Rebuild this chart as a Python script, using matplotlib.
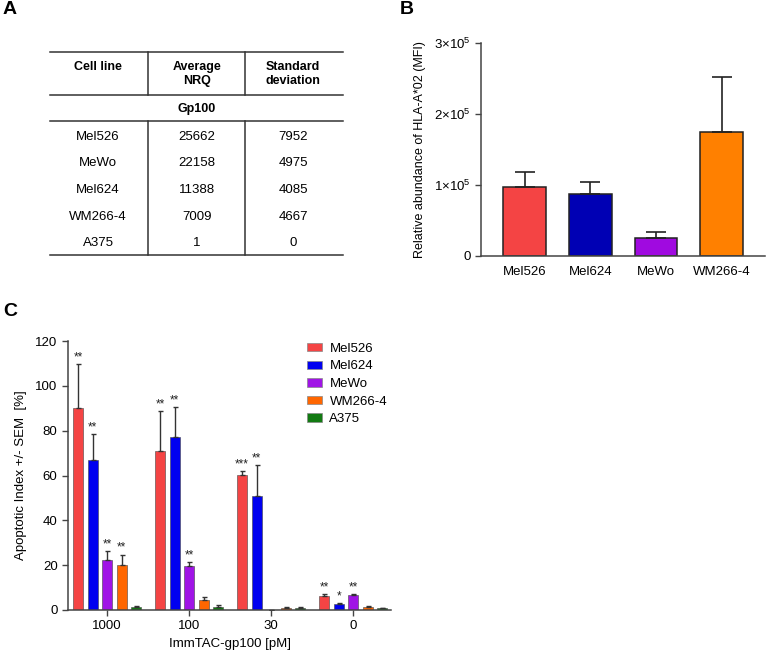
import numpy as np
import matplotlib
matplotlib.use('Agg')
import matplotlib.pyplot as plt
from matplotlib.patches import Patch

plt.rcParams['font.family'] = ['Liberation Sans', 'DejaVu Sans']
plt.rcParams['mathtext.fontset'] = 'custom'
plt.rcParams['mathtext.rm'] = 'Liberation Sans'
plt.rcParams['mathtext.it'] = 'Liberation Sans'

# panel A: Gp100 expression table
table_cols = ['Cell line', 'Average\nNRQ', 'Standard\ndeviation']
table_group = 'Gp100'
table_lines = ['Mel526', 'MeWo', 'Mel624', 'WM266-4', 'A375']
avg_nrq = [25662, 22158, 11388, 7009, 1]
std_nrq = [7952, 4975, 4085, 4667, 0]

# panel B: HLA-A*02 abundance
b_lines = ['Mel526', 'Mel624', 'MeWo', 'WM266-4']
b_mfi = [97000, 88000, 25000, 175000]
b_err = [21500, 16600, 8500, 76700]
b_colors = ['#f44444', '#0000b4', '#a00ae0', '#ff8000']

# panel C: apoptotic index
conc = ['1000', '100', '30', '0']
c_lines = ['Mel526', 'Mel624', 'MeWo', 'WM266-4', 'A375']
c_colors = ['#f44444', '#0000f0', '#a014e6', '#ff6600', '#127a12']
mel526_ai = [90.2, 70.9, 60.4, 6.4]
mel624_ai = [67.1, 77.3, 50.8, 2.5]
mewo_ai = [22.3, 19.7, 0.0, 6.7]
wm266_ai = [20.1, 4.5, 1.0, 1.2]
a375_ai = [1.5, 1.5, 1.0, 0.7]
mel526_sem = [19.5, 17.8, 1.5, 0.6]
mel624_sem = [11.4, 13.2, 14.0, 0.5]
mewo_sem = [4.1, 1.7, 0.0, 0.4]
wm266_sem = [4.6, 1.5, 0.3, 0.4]
a375_sem = [0.4, 0.6, 0.2, 0.3]
mel526_sig = ['**', '**', '***', '**']
mel624_sig = ['**', '**', '**', '*']
mewo_sig = ['**', '**', '', '**']
wm266_sig = ['**', '', '', '']
a375_sig = ['', '', '', '']

c_vals = [mel526_ai, mel624_ai, mewo_ai, wm266_ai, a375_ai]
c_sems = [mel526_sem, mel624_sem, mewo_sem, wm266_sem, a375_sem]
c_sigs = [mel526_sig, mel624_sig, mewo_sig, wm266_sig, a375_sig]

W, H = 766, 651
fig = plt.figure(figsize=(W / 100, H / 100), dpi=100)

# full-figure axes in pixel coords for the table and panel letters
tax = fig.add_axes([0, 0, 1, 1])
tax.set_xlim(0, W)
tax.set_ylim(H, 0)
tax.axis('off')

for lab, x, y in [('A', 3, 10), ('B', 400, 10), ('C', 3, 311)]:
    tax.text(x, y, lab, fontsize=14, fontweight='bold', va='center', ha='left')

x0, x1 = 50, 343
col_x = [98, 197, 293]
div_x = [147.5, 245]
y_top, y_hdr, y_grp, y_bot = 52, 95, 121, 255
lc = '#333333'
for y in [y_top, y_hdr, y_grp, y_bot]:
    tax.plot([x0, x1], [y, y], color=lc, lw=1.1)
for x in div_x:
    tax.plot([x, x], [y_top, y_hdr], color=lc, lw=1.1)
    tax.plot([x, x], [y_grp, y_bot], color=lc, lw=1.1)
for cx, txt in zip(col_x, table_cols):
    tax.text(cx, 61, txt, fontsize=9, fontweight='bold', ha='center', va='top',
             linespacing=1.2)
tax.text((x0 + x1) / 2, 109, table_group, fontsize=9, fontweight='bold',
         ha='center', va='center')
row_y = np.linspace(137, 243, len(table_lines))
for i in range(len(table_lines)):
    tax.text(col_x[0], row_y[i], table_lines[i], fontsize=9.5, ha='center', va='center')
    tax.text(col_x[1], row_y[i], str(avg_nrq[i]), fontsize=9.5, ha='center', va='center')
    tax.text(col_x[2], row_y[i], str(std_nrq[i]), fontsize=9.5, ha='center', va='center')

# panel B
axb = fig.add_axes([481 / W, 1 - 256 / H, (765 - 481) / W, (256 - 43) / H])
xb = np.arange(len(b_lines))
axb.bar(xb, b_mfi, width=0.65, color=b_colors, edgecolor='#222222', linewidth=1.1,
        yerr=[np.zeros(len(b_err)), b_err], capsize=7.5,
        error_kw=dict(ecolor='#222222', elinewidth=1.2, capthick=1.2))
axb.set_xlim(-0.665, 3.66)
axb.set_ylim(0, 300000)
axb.set_yticks([0, 100000, 200000, 300000])
axb.set_yticklabels(['0', r'$1{\times}10^5$', r'$2{\times}10^5$', r'$3{\times}10^5$'])
axb.set_xticks(xb)
axb.set_xticklabels(b_lines)
axb.set_ylabel('Relative abundance of HLA-A*02 (MFI)', fontsize=9, labelpad=6)
axb.tick_params(axis='x', length=0, labelsize=9.5, pad=7)
axb.tick_params(axis='y', length=4, width=1, labelsize=9.5, color='#444444')
for s in ['top', 'right']:
    axb.spines[s].set_visible(False)
for s in ['left', 'bottom']:
    axb.spines[s].set_color('#444444')
    axb.spines[s].set_linewidth(1.1)

# panel C
axc = fig.add_axes([68 / W, 1 - 610 / H, (391 - 68) / W, (610 - 341) / H])
xg = np.arange(len(conc))
slot = 0.177
for k in range(len(c_lines)):
    xs = xg + (k - 2) * slot
    vals = np.array(c_vals[k])
    sems = np.array(c_sems[k])
    axc.bar(xs, vals, width=0.122, color=c_colors[k], edgecolor='#444444',
            linewidth=0.4, yerr=[np.zeros(len(sems)), sems], capsize=1.8,
            error_kw=dict(ecolor='#333333', elinewidth=1.0, capthick=1.0),
            label=c_lines[k])
    for j in range(len(conc)):
        if c_sigs[k][j]:
            axc.annotate(c_sigs[k][j], (xs[j], vals[j] + sems[j]),
                         xytext=(0, 0.5), textcoords='offset points',
                         ha='center', va='bottom', fontsize=8.5, color='#222222')
axc.set_xlim(-0.476, 3.46)
axc.set_ylim(0, 120)
axc.set_yticks(np.arange(0, 121, 20))
axc.set_xticks(xg)
axc.set_xticklabels(conc)
axc.set_xlabel('ImmTAC-gp100 [pM]', fontsize=9.5, labelpad=4)
axc.set_ylabel('Apoptotic Index +/- SEM  [%]', fontsize=9.5, labelpad=6)
axc.tick_params(axis='both', length=4, width=1, labelsize=9.5, color='#444444')
for s in ['top', 'right']:
    axc.spines[s].set_visible(False)
for s in ['left', 'bottom']:
    axc.spines[s].set_color('#444444')
    axc.spines[s].set_linewidth(1.1)

handles = [Patch(facecolor=c_colors[k], edgecolor='#888888', linewidth=0.5)
           for k in range(len(c_lines))]
axc.legend(handles, c_lines, loc='upper left', bbox_to_anchor=(0.74, 0.993),
           frameon=False, fontsize=9.5, handlelength=1.15, handleheight=0.6,
           handletextpad=0.55, labelspacing=0.42, borderpad=0, borderaxespad=0)

fig.savefig('out.png', dpi=100)
